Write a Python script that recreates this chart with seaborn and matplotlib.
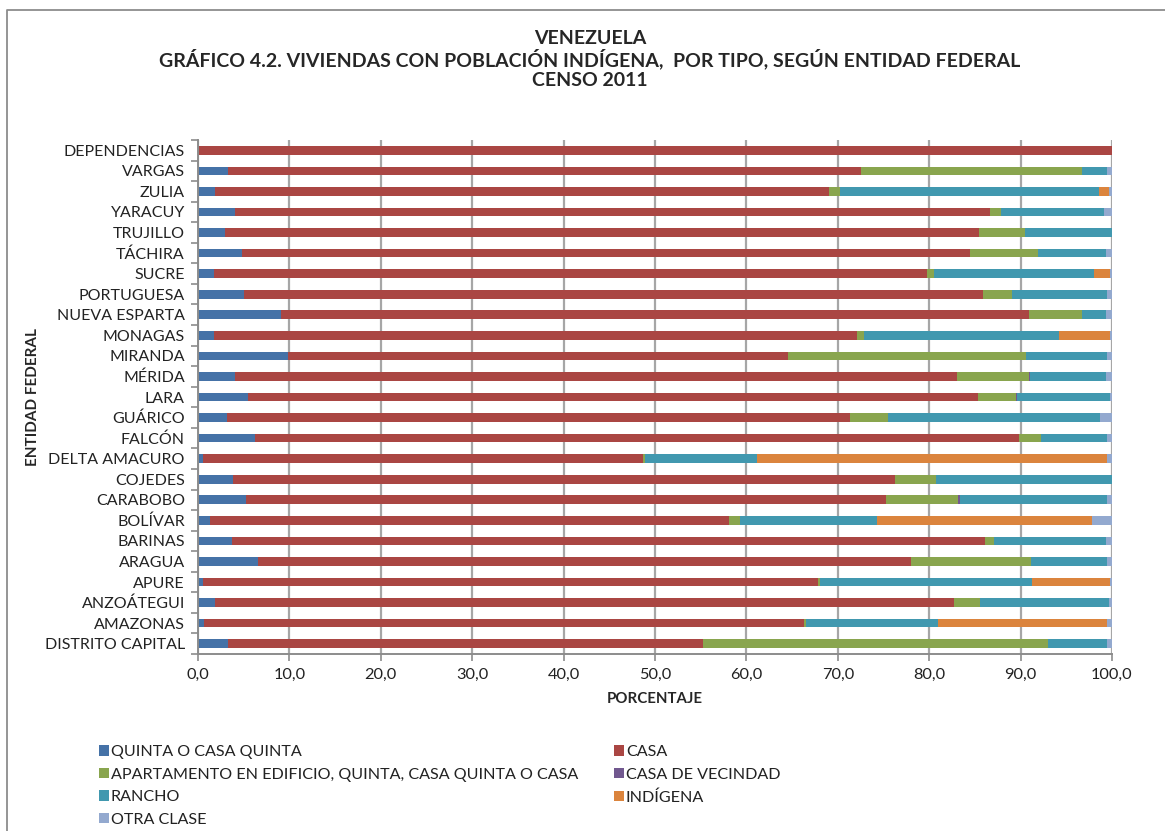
import numpy as np
import matplotlib
matplotlib.use("Agg")
import matplotlib.pyplot as plt
from matplotlib.lines import Line2D
from matplotlib.patches import Patch
from matplotlib.ticker import FixedLocator
import seaborn as sns

# entidades, de arriba hacia abajo como en el gráfico
entidades = [
    "DEPENDENCIAS", "VARGAS", "ZULIA", "YARACUY", "TRUJILLO", "TÁCHIRA",
    "SUCRE", "PORTUGUESA", "NUEVA ESPARTA", "MONAGAS", "MIRANDA", "MÉRIDA",
    "LARA", "GUÁRICO", "FALCÓN", "DELTA AMACURO", "COJEDES", "CARABOBO",
    "BOLÍVAR", "BARINAS", "ARAGUA", "APURE", "ANZOÁTEGUI", "AMAZONAS",
    "DISTRITO CAPITAL",
]

# porcentajes por tipo de vivienda
quinta = [0.0, 3.3, 1.85, 4.0, 2.95, 4.8, 1.75, 5.05, 9.05, 1.75, 9.8, 4.0,
          5.5, 3.15, 6.25, 0.5, 3.85, 5.25, 1.3, 3.7, 6.55, 0.5, 1.85, 0.65, 3.3]
casa = [100.0, 69.2, 67.15, 82.7, 82.55, 79.7, 78.05, 80.85, 81.9, 70.35, 54.8,
        79.05, 79.8, 68.15, 83.55, 48.2, 72.45, 70.05, 56.8, 82.45, 71.5, 67.3,
        80.85, 65.65, 51.9]
apartamento = [0.0, 24.2, 1.2, 1.2, 4.95, 7.4, 0.7, 3.2, 5.75, 0.8, 26.0, 7.85,
               4.2, 4.2, 2.4, 0.2, 4.4, 7.9, 1.2, 0.9, 13.05, 0.25, 2.9, 0.25, 37.8]
vecindad = [0.0, 0.0, 0.0, 0.0, 0.0, 0.0, 0.0, 0.0, 0.0, 0.0, 0.0, 0.1,
            0.1, 0.0, 0.0, 0.0, 0.0, 0.15, 0.0, 0.0, 0.0, 0.0, 0.0, 0.0, 0.0]
rancho = [0.0, 2.8, 28.4, 11.2, 9.55, 7.4, 17.55, 10.4, 2.6, 21.3, 8.9, 8.3,
          10.15, 23.2, 7.3, 12.3, 19.3, 16.05, 15.0, 12.25, 8.4, 23.25, 14.05,
          14.45, 6.5]
indigena = [0.0, 0.0, 1.05, 0.0, 0.0, 0.0, 1.7, 0.0, 0.0, 5.55, 0.0, 0.0,
            0.0, 0.0, 0.0, 38.3, 0.0, 0.0, 23.5, 0.0, 0.0, 8.45, 0.0, 18.5, 0.0]
otra = [0.0, 0.5, 0.35, 0.9, 0.0, 0.7, 0.25, 0.5, 0.7, 0.25, 0.5, 0.7,
        0.25, 1.3, 0.5, 0.5, 0.0, 0.6, 2.2, 0.7, 0.5, 0.25, 0.35, 0.5, 0.5]

series = [
    ("QUINTA O CASA QUINTA", quinta, "#4572A7"),
    ("CASA", casa, "#AA4643"),
    ("APARTAMENTO EN EDIFICIO, QUINTA, CASA QUINTA O CASA", apartamento, "#89A54E"),
    ("CASA DE VECINDAD", vecindad, "#71588F"),
    ("RANCHO", rancho, "#4198AF"),
    ("INDÍGENA", indigena, "#DB843D"),
    ("OTRA CLASE", otra, "#93A9CF"),
]

sns.set_style("white")
plt.rcParams["font.family"] = ["Lato", "DejaVu Sans"]

fig = plt.figure(figsize=(11.65, 8.31), dpi=100)
ax = fig.add_axes([0.170, 0.213, 0.7845, 0.6185])

# barras apiladas: se dibujan los acumulados del mayor al menor
acum = np.cumsum(np.array([s[1] for s in series]), axis=0)
for i in range(len(series) - 1, -1, -1):
    sns.barplot(x=acum[i], y=entidades, orient="h", color=series[i][2],
                saturation=1, width=0.42, ax=ax, linewidth=0)

ax.set_xlim(0, 100)
ax.set_ylim(len(entidades) - 0.5, -0.5)
ax.set_xticks(np.arange(0, 101, 10))
ax.set_xticklabels([f"{v:.1f}".replace(".", ",") for v in np.arange(0, 101, 10)],
                   fontsize=11.8, color="#222222")
ax.tick_params(axis="x", length=5, width=1.2, color="#8c8c8c", pad=5, bottom=True)
ax.tick_params(axis="y", which="major", length=0, labelsize=11.5,
               labelcolor="#222222", pad=9.5)
ax.yaxis.set_minor_locator(FixedLocator(np.arange(-0.5, len(entidades), 1)))
ax.tick_params(axis="y", which="minor", length=5, width=1.2, color="#8c8c8c", left=True)
ax.grid(axis="x", color="#a6a6a6", linewidth=1.6)
ax.grid(axis="y", visible=False)
ax.set_axisbelow(True)
for side in ["top", "right"]:
    ax.spines[side].set_visible(False)
for side in ["left", "bottom"]:
    ax.spines[side].set_color("#8c8c8c")
    ax.spines[side].set_linewidth(1.4)
ax.set_xlabel("")
ax.set_ylabel("")

# títulos
titulo = ["VENEZUELA",
          "GRÁFICO 4.2. VIVIENDAS CON POBLACIÓN INDÍGENA,  POR TIPO, SEGÚN ENTIDAD FEDERAL",
          "CENSO 2011"]
for linea, ypix in zip(titulo, [38, 59, 80]):
    fig.text(0.5064, 1 - ypix / 831, linea, ha="center", va="center",
             fontsize=14, fontweight="bold")
fig.text(655 / 1165, 1 - 699 / 831, "PORCENTAJE", ha="center", va="center",
         fontsize=10.8, fontweight="bold")
fig.text(33 / 1165, 1 - 397 / 831, "ENTIDAD FEDERAL", ha="center", va="center",
         rotation=90, fontsize=11, fontweight="bold")

# marco del área del gráfico
fig.add_artist(Line2D([7 / 1165, 7 / 1165, 1.0], [0.0, 1 - 10 / 831, 1 - 10 / 831],
                      transform=fig.transFigure, color="#8c8c8c", linewidth=1.3))

# leyenda en dos columnas
handles = {name: Patch(facecolor=c, edgecolor="none") for name, _, c in series}
col1 = ["QUINTA O CASA QUINTA",
        "APARTAMENTO EN EDIFICIO, QUINTA, CASA QUINTA O CASA",
        "RANCHO", "OTRA CLASE"]
col2 = ["CASA", "CASA DE VECINDAD", "INDÍGENA"]
for names, xpos in [(col1, 99 / 1165), (col2, 614 / 1165)]:
    leg = fig.legend([handles[n] for n in names], names, loc="upper left",
                     bbox_to_anchor=(xpos, 1 - 745 / 831), frameon=False,
                     fontsize=11.6, handlelength=0.62, handleheight=0.62,
                     handletextpad=0.12, labelspacing=0.53, borderpad=0,
                     borderaxespad=0)
    for t in leg.get_texts():
        t.set_color("#222222")

fig.savefig("out.png", dpi=100, facecolor="white")
